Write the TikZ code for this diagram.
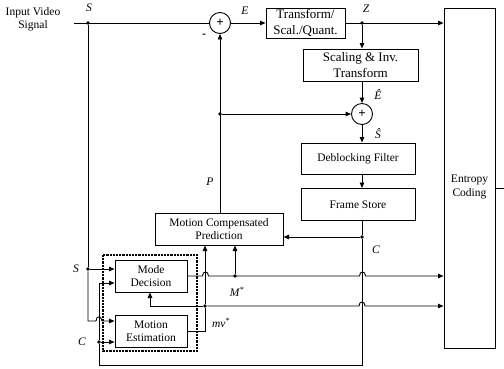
\documentclass[tikz,border=0pt]{standalone}
\usepackage{fontspec}
\setmainfont{Liberation Serif}
\usetikzlibrary{arrows.meta}
\begin{document}
\begin{tikzpicture}[x=1pt,y=-1pt,
  line width=0.9pt,
  font=\fontsize{11.5}{13.5}\selectfont,
  blk/.style={draw, line width=1pt, align=center, inner sep=0pt},
  bigtxt/.style={font=\fontsize{13}{15.5}\selectfont},
  sumc/.style={draw, circle, minimum size=21pt, inner sep=0pt, font=\bfseries\fontsize{13}{13}\selectfont},
  arr/.style={-{Triangle[length=5.5pt,width=4.5pt]}},
  dotn/.style={circle, fill, inner sep=0pt, minimum size=3.6pt},
  lbl/.style={font=\fontsize{11.5}{13.5}\selectfont\itshape, inner sep=0pt},
  frame/.style={draw, dash pattern=on 2.2pt off 1pt, line width=1.4pt},
]
\useasboundingbox (0,0) rectangle (504,368);

% blocks
\node[align=center, inner sep=0pt] (inp) at (33,19) {Input Video\\Signal};
\node[sumc] (s1) at (220,23) {+};
\node[blk, bigtxt, minimum width=79pt, minimum height=30pt] (tq) at (305.5,23) {Transform/\\Scal./Quant.};
\node[blk, bigtxt, minimum width=115pt, minimum height=32pt] (sc) at (360.5,65) {Scaling \& Inv.\\Transform};
\node[sumc] (s2) at (362,114) {+};
\node[blk, minimum width=114pt, minimum height=31pt] (db) at (358,158.5) {Deblocking Filter};
\node[blk, minimum width=114pt, minimum height=32pt] (fs) at (358,204.5) {Frame Store};
\node[blk, minimum width=51pt, minimum height=340pt] (ec) at (469.5,178) {};
\node[align=center, inner sep=0pt] (ect) at (469.5,187) {Entropy\\Coding};
\node[blk, minimum width=128pt, minimum height=32pt] (mcp) at (219,229) {Motion Compensated\\Prediction};
\draw[frame] (103,255) rectangle (197,351);
\node[blk, minimum width=72pt, minimum height=32pt] (md) at (151,276) {Mode\\Decision};
\node[blk, minimum width=72pt, minimum height=32pt] (me) at (151,331) {Motion\\Estimation};

% points
\coordinate (in) at (74,23);
\node[dotn] (sd) at (88,23) {};
\node[dotn] (sd2) at (88,269) {};
\coordinate (sbot) at (88,321);
\node[dotn] (zd) at (362,23) {};
\node[dotn] (pd) at (220,114) {};
\node[dotn] (cd) at (362,237) {};
\coordinate (cbr) at (362,365);
\coordinate (cbl) at (99,365);
\node[dotn] (cd2) at (99,342) {};
\node[dotn] (msd) at (235,276) {};
\node[dotn] (mvd) at (205,306) {};
\coordinate (mdb) at (150,306);
\coordinate (out) at (504,188);

% forward path
\draw (in) -- (s1);
\draw[arr] (s1) -- (tq);
\draw[arr] (tq.east) -- (ec.west |- tq.east);
\draw[arr] (zd) -- (zd |- sc.north);
\draw[arr] (s2 |- sc.south) -- (s2);
\draw[arr] (s2) -- (s2 |- db.north);
\draw[arr] (s2 |- db.south) -- (s2 |- fs.north);
\draw (s2 |- fs.south) -- (cd);
\draw[arr] (cd) -- (cd -| mcp.east);
\draw (cd) -- (cbr) -- (cbl) -- (cd2);
\draw[arr] (cd2) |- ([yshift=-7pt]md.west);
\draw[arr] (cd2) -- (cd2 -| me.west);
\draw (ec.east |- out) -- (out);

% prediction path
\draw[arr] (mcp.north -| s1) -- (s1);
\draw[arr] (pd) -- (s2);

% S input
\draw (sd) -- (sd2);
\draw[arr] (sd2) -- (sd2 -| md.west);
\draw[arr] (sd2) -- (sbot) -- ++(8,0) .. controls ++(0,-5.5) and ++(-0.5,-5.5) .. ++(6,0) -- ([yshift=10pt]me.west);

% M* line
\draw[arr] (md.east) -- ++(15,0) .. controls ++(0,-5.5) and ++(0,-5.5) .. ++(6,0)
   -- ++(151,0) .. controls ++(0,-5.5) and ++(0,-5.5) .. ++(6,0) -- (ec.west |- md.east);
\draw[arr] (msd) -- (msd |- mcp.south);

% mv* line
\draw (me.east) -| (mvd);
\draw[arr] (mvd) -- (mvd |- mcp.south);
\draw[arr] (mvd) -- (mdb) -- (mdb |- md.south);
\draw[arr] (mvd) -- ++(154,0) .. controls ++(0,-5.5) and ++(0,-5.5) .. ++(6,0) -- (ec.west |- mvd);

% labels
\node[lbl] (lS) at (89,8) {S};
\node[lbl] (lE) at (245,11) {E};
\node[lbl] (lZ) at (366,9) {Z};
\node[font=\bfseries\fontsize{12}{12}\selectfont, inner sep=0pt] (lm) at (204,36) {-};
\node[lbl] (lEh) at (378,95) {\^{E}};
\node[lbl] (lSh) at (378,134) {\^{S}};
\node[lbl] (lP) at (210,182) {P};
\node[lbl] (lC) at (376,250) {C};
\node[lbl] (lM) at (237,292) {M\textsuperscript{*}};
\node[lbl] (lmv) at (221,323) {mv\textsuperscript{*}};
\node[lbl] (lS2) at (76,269) {S};
\node[lbl] (lC2) at (82,342) {C};
\end{tikzpicture}
\end{document}
